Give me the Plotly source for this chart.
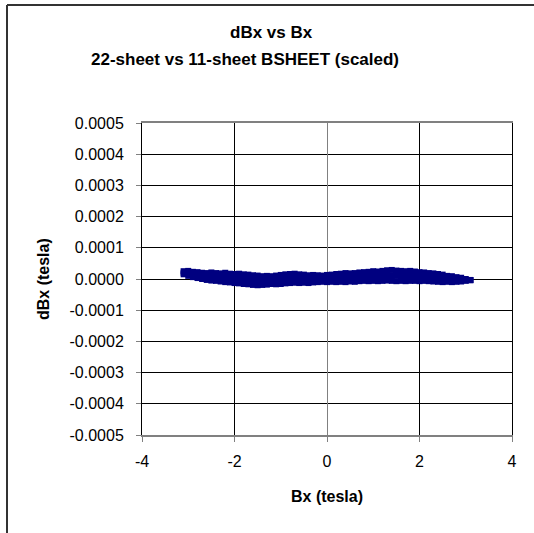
import plotly.graph_objects as go

# Bx sample positions (tesla)
bx = [-3.1, -3.0, -2.9, -2.8, -2.7, -2.6, -2.5, -2.4, -2.3, -2.2, -2.1,
      -2.0, -1.9, -1.8, -1.7, -1.6, -1.5, -1.4, -1.3, -1.2, -1.1,
      -1.0, -0.9, -0.8, -0.7, -0.6, -0.5, -0.4, -0.3, -0.2, -0.1,
      0.0, 0.1, 0.2, 0.3, 0.4, 0.5, 0.6, 0.7, 0.8, 0.9,
      1.0, 1.1, 1.2, 1.3, 1.4, 1.5, 1.6, 1.7, 1.8, 1.9,
      2.0, 2.1, 2.2, 2.3, 2.4, 2.5, 2.6, 2.7, 2.8, 2.9, 3.0, 3.1]

# dBx (tesla): upper, middle and lower parts of the scatter band
dbx_upper = [25e-6, 26e-6, 23e-6, 22e-6, 20e-6, 19e-6, 21e-6, 19e-6, 18e-6, 20e-6, 17e-6,
             16e-6, 17e-6, 15e-6, 14e-6, 12e-6, 11e-6, 9e-6, 10e-6, 9e-6, 11e-6,
             13e-6, 15e-6, 16e-6, 17e-6, 15e-6, 14e-6, 12e-6, 13e-6, 12e-6, 11e-6,
             13e-6, 14e-6, 16e-6, 17e-6, 19e-6, 18e-6, 19e-6, 21e-6, 22e-6, 23e-6,
             25e-6, 24e-6, 26e-6, 28e-6, 29e-6, 27e-6, 26e-6, 25e-6, 26e-6, 24e-6,
             22e-6, 21e-6, 19e-6, 18e-6, 16e-6, 14e-6, 10e-6, 9e-6, 6e-6, 4e-6, 0.0, -3e-6]

dbx_middle = [20e-6, 18e-6, 15e-6, 13e-6, 10e-6, 8e-6, 8e-6, 6e-6, 5e-6, 5e-6, 3e-6,
              2e-6, 1e-6, 0.0, -1e-6, -3e-6, -4e-6, -5e-6, -4e-6, -3e-6, -3e-6,
              -2e-6, 0.0, 1e-6, 2e-6, 1e-6, 1e-6, 0.0, 1e-6, 1e-6, 1e-6,
              2e-6, 2e-6, 3e-6, 4e-6, 5e-6, 5e-6, 5e-6, 7e-6, 8e-6, 8e-6,
              10e-6, 9e-6, 10e-6, 11e-6, 12e-6, 10e-6, 10e-6, 9e-6, 10e-6, 9e-6,
              8e-6, 7e-6, 6e-6, 5e-6, 4e-6, 2e-6, 0.0, -1e-6, -2e-6, -2e-6, -3e-6, -3.5e-6]

dbx_lower = [15e-6, 10e-6, 6e-6, 3e-6, 0.0, -3e-6, -5e-6, -6e-6, -8e-6, -10e-6, -11e-6,
             -13e-6, -14e-6, -16e-6, -17e-6, -19e-6, -20e-6, -19e-6, -18e-6, -16e-6, -17e-6,
             -16e-6, -14e-6, -13e-6, -12e-6, -13e-6, -12e-6, -13e-6, -11e-6, -10e-6, -9e-6,
             -10e-6, -9e-6, -10e-6, -9e-6, -10e-6, -8e-6, -9e-6, -7e-6, -6e-6, -7e-6,
             -6e-6, -7e-6, -6e-6, -5e-6, -6e-6, -7e-6, -6e-6, -7e-6, -6e-6, -6e-6,
             -7e-6, -6e-6, -7e-6, -8e-6, -9e-6, -10e-6, -9e-6, -10e-6, -9e-6, -8e-6, -6e-6, -4e-6]

# Axis ticks
x_tickvals = [-4, -2, 0, 2, 4]
x_ticktext = ["-4", "-2", "0", "2", "4"]
y_tickvals = [-0.0005, -0.0004, -0.0003, -0.0002, -0.0001, 0.0,
              0.0001, 0.0002, 0.0003, 0.0004, 0.0005]
y_ticktext = ["-0.0005", "-0.0004", "-0.0003", "-0.0002", "-0.0001", "0.0000",
              "0.0001", "0.0002", "0.0003", "0.0004", "0.0005"]

FONT = "Liberation Sans, Arial, sans-serif"

fig = go.Figure()
fig.add_trace(go.Scatter(
    x=bx + bx + bx,
    y=dbx_upper + dbx_middle + dbx_lower,
    mode="markers",
    marker=dict(symbol="square", size=6, color="#000080", line=dict(width=0)),
    showlegend=False,
    hoverinfo="x+y",
))

W, H = 534, 533
L, R, T, B = 142, 512, 123, 435


def px(xp):
    return (xp - L) / (R - L)


def py(yp):
    return (B - yp) / (B - T)


fig.update_layout(
    width=W, height=H,
    margin=dict(l=L, r=W - R, t=T, b=H - B, pad=0),
    paper_bgcolor="white", plot_bgcolor="white",
    font=dict(family=FONT, size=16, color="black"),
    xaxis=dict(
        range=[-4, 4], tickvals=x_tickvals, ticktext=x_ticktext,
        showgrid=True, gridcolor="black", gridwidth=1,
        zeroline=True, zerolinecolor="#808080", zerolinewidth=1,
        showline=True, mirror=True, linecolor="#808080", linewidth=2,
        ticks="outside", ticklen=5, tickcolor="#808080", tickwidth=1,
        ticklabelstandoff=6,
        tickfont=dict(size=16, family=FONT),
    ),
    yaxis=dict(
        range=[-0.0005, 0.0005], tickvals=y_tickvals, ticktext=y_ticktext,
        showgrid=True, gridcolor="black", gridwidth=1,
        zeroline=False,
        showline=True, mirror=True, linecolor="black", linewidth=1,
        ticks="outside", ticklen=5, tickcolor="#808080", tickwidth=1,
        ticklabelstandoff=9,
        tickfont=dict(size=16, family=FONT),
    ),
    annotations=[
        dict(text="<b>dBx vs Bx</b>", x=px(271), y=py(33), xref="paper", yref="paper",
             xanchor="center", yanchor="middle", showarrow=False, font=dict(size=17)),
        dict(text="<b>22-sheet vs 11-sheet BSHEET (scaled)</b>", x=px(245), y=py(59),
             xref="paper", yref="paper", xanchor="center", yanchor="middle",
             showarrow=False, font=dict(size=17)),
        dict(text="<b>Bx (tesla)</b>", x=px(327), y=py(496), xref="paper", yref="paper",
             xanchor="center", yanchor="middle", showarrow=False, font=dict(size=16)),
        dict(text="<b>dBx (tesla)</b>", x=px(43), y=py(279), xref="paper", yref="paper",
             xanchor="center", yanchor="middle", textangle=-90, showarrow=False,
             font=dict(size=16)),
    ],
    shapes=[
        # chart-area frame (top and left edges)
        dict(type="line", xref="paper", yref="paper", x0=px(7), x1=px(540), y0=py(5), y1=py(5),
             line=dict(color="#333333", width=2)),
        dict(type="line", xref="paper", yref="paper", x0=px(7), x1=px(7), y0=py(5), y1=py(540),
             line=dict(color="#333333", width=2)),
    ],
)

fig.write_html("out.html")
